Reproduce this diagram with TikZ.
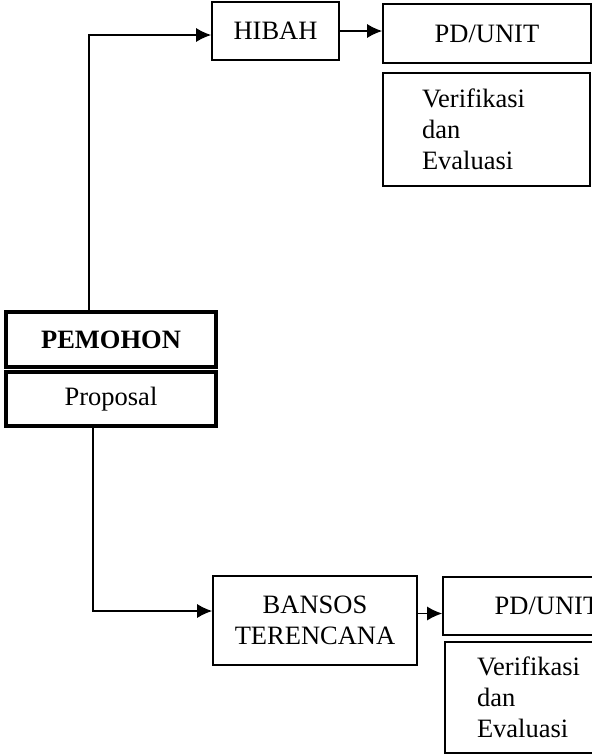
\documentclass[tikz,border=0pt]{standalone}
\usepackage{fontspec}
\setmainfont{Liberation Serif}
\usetikzlibrary{positioning,calc,arrows.meta}

\tikzset{
  box/.style={draw, line width=1.6pt, inner sep=0pt, align=center},
  mainbox/.style={draw, line width=4pt, inner sep=0pt, align=center,
    minimum width=210pt},
  textbox/.style={draw, line width=1.6pt, inner ysep=0pt, align=left},
  arr/.style={line width=1.5pt, -{Latex[length=15pt,width=14pt]}}
}

\begin{document}
\begin{tikzpicture}[x=1pt, y=-1pt, font=\fontsize{26.5}{31}\selectfont]
\useasboundingbox (0,0) rectangle (592,756);
\clip (0,0) rectangle (592,756);

% PEMOHON

\node[mainbox, minimum height=55pt] (pemohon) at (111,339.5) {\textbf{PEMOHON}};
\node[mainbox, minimum height=54pt] (proposal) at (111,399) {Proposal};

% HIBAH

\node[box, minimum width=127pt, minimum height=58pt] (hibah) at (275.5,31) {HIBAH};
\node[box, minimum width=208pt, minimum height=59pt] (pd1) at (487,33.5) {PD/UNIT};
\node[textbox, text width=129pt, inner xsep=39pt, minimum height=113pt]
  (ver1) at (486.5,129.5) {Verifikasi\\dan\\Evaluasi};

\coordinate (c1) at (89,35);
\draw[arr] (pemohon.north -| c1) -- (c1) -- (c1 -| hibah.west);
\draw[arr] (hibah.east) -- (hibah.east -| pd1.west);

% BANSOS

\node[box, minimum width=204pt, minimum height=89pt] (bansos) at (315,620.5) {BANSOS\\TERENCANA};
\node[box, minimum width=208pt, minimum height=58pt] (pd2) at (547,606) {PD/UNIT};
\node[textbox, text width=144pt, inner xsep=32pt, minimum height=111pt]
  (ver2) at (549,697.5) {Verifikasi\\dan\\Evaluasi};

\coordinate (c2) at (93,611);
\draw[arr] (proposal.south -| c2) -- (c2) -- (c2 -| bansos.west);
\coordinate (c3) at ($(bansos.east)+(0,-7)$);
\draw[arr] (c3) -- (c3 -| pd2.west);

\end{tikzpicture}
\end{document}
